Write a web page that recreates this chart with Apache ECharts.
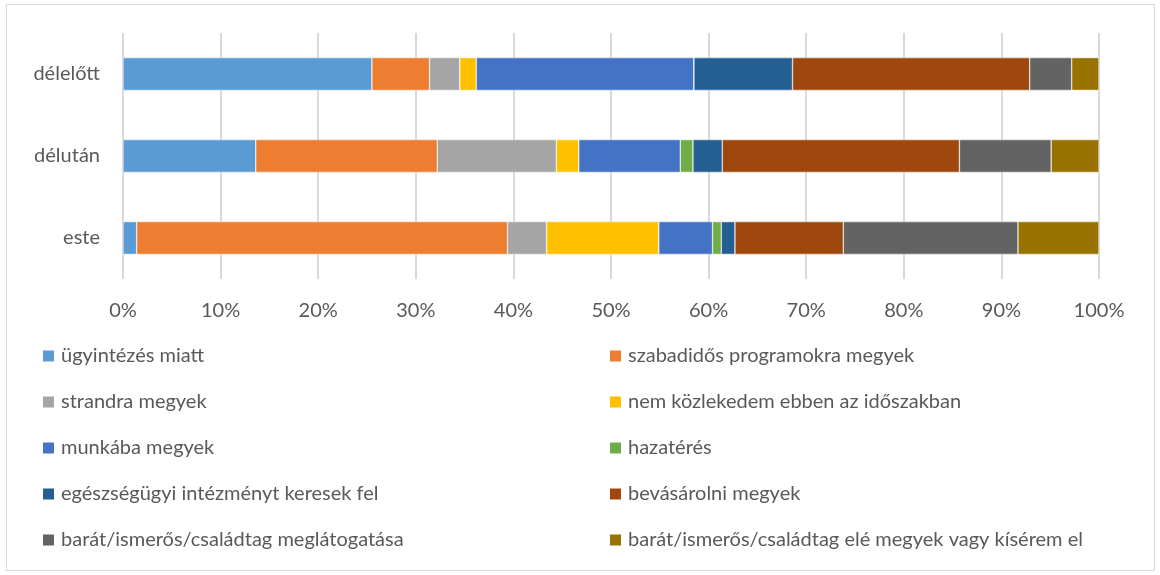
<!DOCTYPE html>
<html>
<head>
<meta charset="utf-8">
<script src="https://cdn.jsdelivr.net/npm/echarts@6/dist/echarts.min.js"></script>
<style>
  html, body { margin: 0; padding: 0; background: #fff; }
  #chart { width: 1160px; height: 575px; }
</style>
</head>
<body>
<div id="chart"></div>
<script>
// kategóriák alulról felfelé
const categories = ['este', 'délután', 'délelőtt']

const seriesNames = [
  'ügyintézés miatt',
  'szabadidős programokra megyek',
  'strandra megyek',
  'nem közlekedem ebben az időszakban',
  'munkába megyek',
  'hazatérés',
  'egészségügyi intézményt keresek fel',
  'bevásárolni megyek',
  'barát/ismerős/családtag meglátogatása',
  'barát/ismerős/családtag elé megyek vagy kísérem el'
]

// százalékok: [este, délután, délelőtt]
const ugyintezes = [1.4, 13.6, 25.5]
const szabadido = [38.0, 18.6, 5.9]
const strand = [4.0, 12.2, 3.1]
const nemKozl = [11.5, 2.3, 1.7]
const munka = [5.5, 10.4, 22.3]
const hazateres = [0.9, 1.3, 0]
const egeszseg = [1.4, 3.0, 10.1]
const bevasarlas = [11.1, 24.3, 24.3]
const latogatas = [17.9, 9.4, 4.3]
const eleMegy = [8.3, 4.9, 2.8]

const values = [ugyintezes, szabadido, strand, nemKozl, munka, hazateres, egeszseg, bevasarlas, latogatas, eleMegy]

const colors = ['#5B9BD5', '#ED7D31', '#A5A5A5', '#FFC000', '#4472C4', '#70AD47', '#255E91', '#9E480E', '#636363', '#997300']

const ticks = [0, 10, 20, 30, 40, 50, 60, 70, 80, 90, 100]

const font = 'Lato'
const textColor = '#595959'

const chart = echarts.init(document.getElementById('chart'))

const legendBase = {
  orient: 'vertical',
  top: 340,
  itemWidth: 13,
  itemHeight: 13,
  itemGap: 24,
  icon: 'rect',
  textStyle: { fontFamily: font, fontSize: 20, color: textColor, lineHeight: 22, padding: [0, 0, 0, 1] }
}

const options = {
  color: colors,
  animation: false,
  graphic: [{
    type: 'rect',
    shape: { x: 6.5, y: 4.5, width: 1148, height: 566 },
    style: { fill: 'none', stroke: '#d9d9d9', lineWidth: 1 },
    silent: true
  }],
  grid: { left: 123, right: 61, top: 33, bottom: 296 },
  legend: [
    Object.assign({}, legendBase, { left: 36, data: seriesNames.filter((n, i) => i % 2 === 0) }),
    Object.assign({}, legendBase, { left: 603, data: seriesNames.filter((n, i) => i % 2 === 1) })
  ],
  xAxis: {
    type: 'value',
    min: ticks[0],
    max: ticks[ticks.length - 1],
    interval: 10,
    axisLine: { show: false },
    axisTick: { show: false },
    splitLine: { lineStyle: { color: '#d9d9d9', width: 2 } },
    axisLabel: {
      formatter: '{value}%',
      fontFamily: font,
      fontSize: 20,
      color: textColor,
      margin: 22
    }
  },
  yAxis: {
    type: 'category',
    data: categories,
    axisLine: { show: false },
    axisTick: { show: false },
    axisLabel: { fontFamily: font, fontSize: 20, color: textColor, margin: 23 }
  },
  series: seriesNames.map((name, i) => ({
    name: name,
    type: 'bar',
    stack: 'total',
    barWidth: '40%',
    data: values[i],
    itemStyle: { borderColor: '#ffffff', borderWidth: 0.5 }
  }))
}

chart.setOption(options)

window.addEventListener('resize', () => {
  chart.resize()
})
</script>
</body>
</html>
